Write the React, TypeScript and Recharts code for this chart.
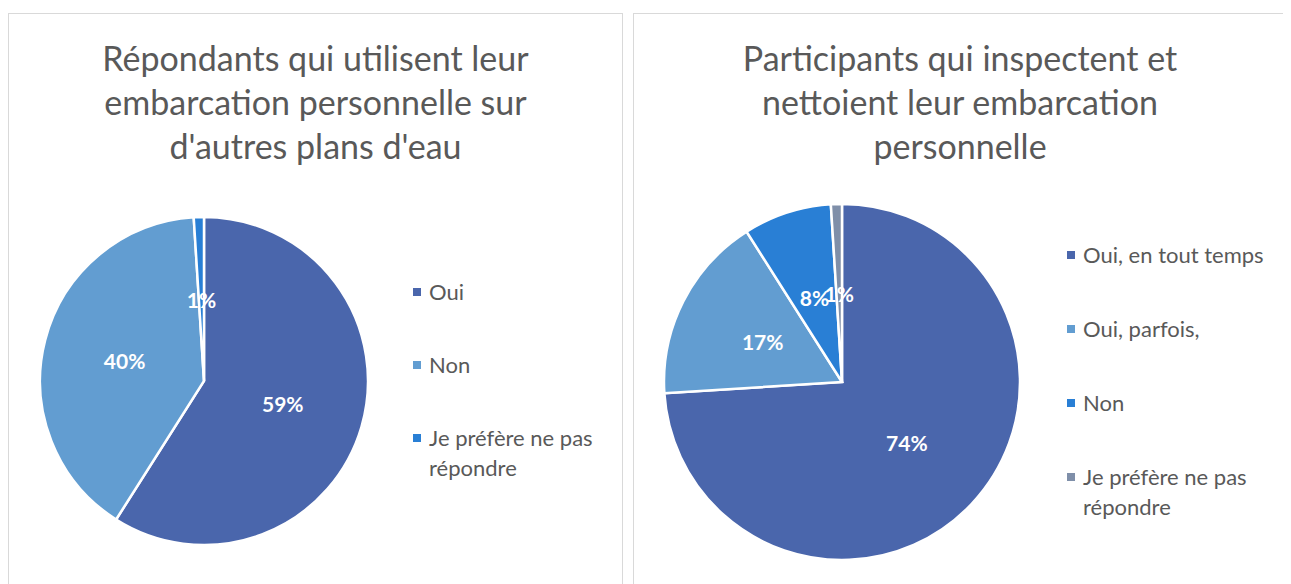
import React from "react";
import { PieChart, Pie, Cell, Legend } from "recharts";

// left chart
const leftTitle = ["Répondants qui utilisent leur", "embarcation personnelle sur", "d'autres plans d'eau"];
const leftNames = ["Oui", "Non", "Je préfère ne pas répondre"];
const leftValues = [59, 40, 1];

// right chart
const rightTitle = ["Participants qui inspectent et", "nettoient leur embarcation", "personnelle"];
const rightNames = ["Oui, en tout temps", "Oui, parfois,", "Non", "Je préfère ne pas répondre"];
const rightValues = [74, 17, 8, 1];

const colors = ["#4A66AC", "#629DD1", "#297FD5", "#7F8FA9"];

const FONT = "Lato, 'Open Sans', sans-serif";
const RADIAN = Math.PI / 180;

const renderLabel = (props: any) => {
  const { cx, cy, midAngle, outerRadius, percent } = props;
  const r = outerRadius * 0.5;
  const x = cx + r * Math.cos(-midAngle * RADIAN);
  const y = cy + r * Math.sin(-midAngle * RADIAN);
  return (
    <text x={x} y={y} fill="#ffffff" textAnchor="middle" dominantBaseline="central"
      fontFamily={FONT} fontWeight="bold" fontSize={21}>
      {`${Math.round(percent * 100)}%`}
    </text>
  );
};

const makeLegend = (names: string[], gap: number) => () => (
  <div style={{ position: "relative", fontFamily: FONT, fontSize: 22, color: "#595959", lineHeight: "30px" }}>
    {names.map((n, i) => (
      <div key={n} style={{ position: "absolute", left: 0, top: i * gap, width: 205, paddingLeft: 16, boxSizing: "border-box" }}>
        <span style={{ position: "absolute", left: 0, top: 11, width: 8, height: 8, background: colors[i] }} />
        {n}
      </div>
    ))}
  </div>
);

type PanelProps = {
  title: string[];
  names: string[];
  values: number[];
  left: number;
  width: number;
  chartW: number;
  cx: number;
  cy: number;
  r: number;
  legendX: number;
  legendY: number;
  gap: number;
};

const Panel = (p: PanelProps) => {
  const data = p.names.map((n, i) => ({ name: n, value: p.values[i] }));
  return (
    <div style={{ position: "absolute", left: p.left, top: 5, width: p.width, height: 600, border: "1px solid #D9D9D9", boxSizing: "border-box", background: "#fff" }}>
      <PieChart width={p.chartW} height={580} margin={{ top: 0, right: 0, bottom: 0, left: 0 }}>
        <Pie data={data} dataKey="value" nameKey="name" cx={p.cx} cy={p.cy} outerRadius={p.r}
          startAngle={90} endAngle={-270} stroke="#ffffff" strokeWidth={2.5}
          label={renderLabel} labelLine={false} isAnimationActive={false}>
          {data.map((d, i) => <Cell key={d.name} fill={colors[i]} />)}
        </Pie>
        <Legend content={makeLegend(p.names, p.gap)}
          wrapperStyle={{ position: "absolute", left: p.legendX, top: p.legendY, width: 210, height: 10 }} />
      </PieChart>
      <div style={{ position: "absolute", left: 0, top: 22, width: p.chartW, textAlign: "center", fontFamily: FONT, fontSize: 34, lineHeight: "44px", color: "#595959" }}>
        {p.title.map((t) => <div key={t}>{t}</div>)}
      </div>
    </div>
  );
};

export default function App() {
  return (
    <div style={{ position: "relative", width: 1283, height: 576, overflow: "hidden" }}>
      <Panel title={leftTitle} names={leftNames} values={leftValues} left={0} width={615} chartW={613}
        cx={195} cy={367} r={164} legendX={404} legendY={263} gap={73} />
      <Panel title={rightTitle} names={rightNames} values={rightValues} left={625} width={700} chartW={652}
        cx={208} cy={368} r={178} legendX={433} legendY={226} gap={74} />
    </div>
  );
}
